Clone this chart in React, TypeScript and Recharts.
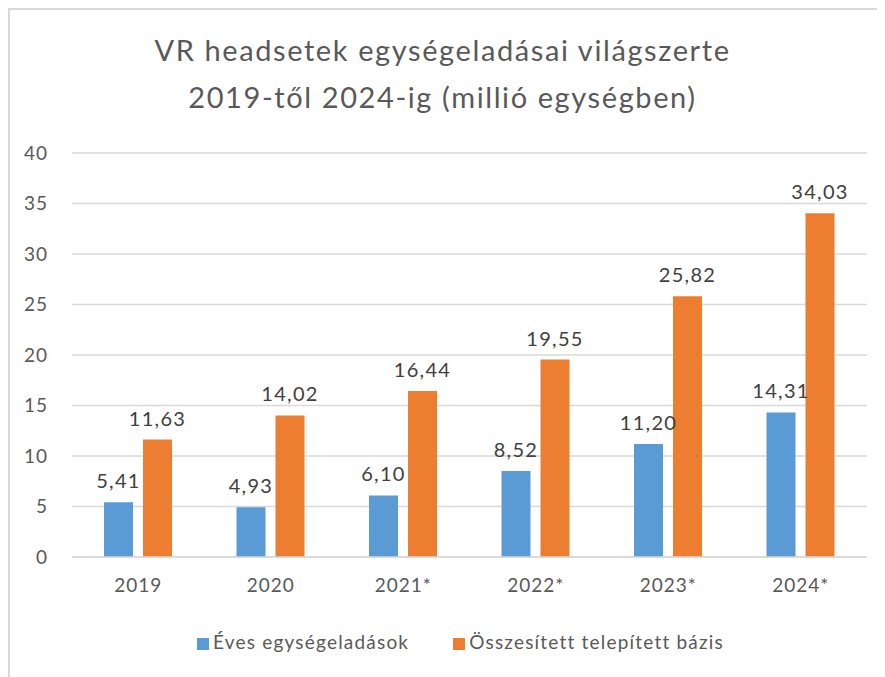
import { Bar, BarChart, CartesianGrid, LabelList, Legend, XAxis, YAxis } from "recharts";

const years = ["2019", "2020", "2021*", "2022*", "2023*", "2024*"];
const annualSales = [5.41, 4.93, 6.1, 8.52, 11.2, 14.31];
const installedBase = [11.63, 14.02, 16.44, 19.55, 25.82, 34.03];
const yTicks = [0, 5, 10, 15, 20, 25, 30, 35, 40];

const data = years.map((year, i) => ({
  year,
  annual: annualSales[i],
  base: installedBase[i],
}));

const font = "Lato, 'Open Sans', sans-serif";
const fmt = (v: any) => Number(v).toFixed(2).replace(".", ",");

export default function App() {
  return (
    <div
      style={{
        position: "relative",
        width: 880,
        height: 680,
        border: "2px solid #d9d9d9",
        fontFamily: font,
        background: "#fff",
      }}
    >
      <div
        style={{
          position: "absolute",
          top: 16,
          left: 0,
          width: 865,
          textAlign: "center",
          fontSize: 29,
          letterSpacing: 1.6,
          lineHeight: "47px",
          color: "#595959",
        }}
      >
        VR headsetek egységeladásai világszerte
        <br />
        2019-től 2024-ig (millió egységben)
      </div>
      <BarChart
        width={875}
        height={667}
        data={data}
        margin={{ top: 143, right: 18, left: 22, bottom: 67 }}
        barSize={29}
        barGap={10}
        style={{ fontFamily: font }}
      >
        <CartesianGrid vertical={false} stroke="#d9d9d9" strokeWidth={1.5} />
        <XAxis
          dataKey="year"
          axisLine={{ stroke: "#d9d9d9", strokeWidth: 1.5 }}
          tickLine={false}
          tick={{ fill: "#595959", fontSize: 19, letterSpacing: 1 }}
          tickMargin={16}
        />
        <YAxis
          domain={[0, 40]}
          ticks={yTicks}
          axisLine={false}
          tickLine={false}
          width={40}
          tick={{ fill: "#595959", fontSize: 19, letterSpacing: 1 }}
          tickMargin={18}
        />
        <Legend
          verticalAlign="bottom"
          iconType="square"
          iconSize={12}
          wrapperStyle={{ bottom: 24, fontSize: 19, letterSpacing: 1.2, paddingLeft: 16 }}
          formatter={(value, _entry, index) => (
            <span style={{ color: "#595959", marginRight: index === 0 ? 34 : 0 }}>{value}</span>
          )}
        />
        <Bar dataKey="annual" name="Éves egységeladások" fill="#5b9bd5" isAnimationActive={false}>
          <LabelList
            dataKey="annual"
            position="top"
            offset={14}
            fill="#404040"
            fontSize={20}
            letterSpacing={1.3}
            formatter={fmt}
          />
        </Bar>
        <Bar dataKey="base" name="Összesített telepített bázis" fill="#ed7d31" isAnimationActive={false}>
          <LabelList
            dataKey="base"
            position="top"
            offset={14}
            fill="#404040"
            fontSize={20}
            letterSpacing={1.3}
            formatter={fmt}
          />
        </Bar>
      </BarChart>
    </div>
  );
}
